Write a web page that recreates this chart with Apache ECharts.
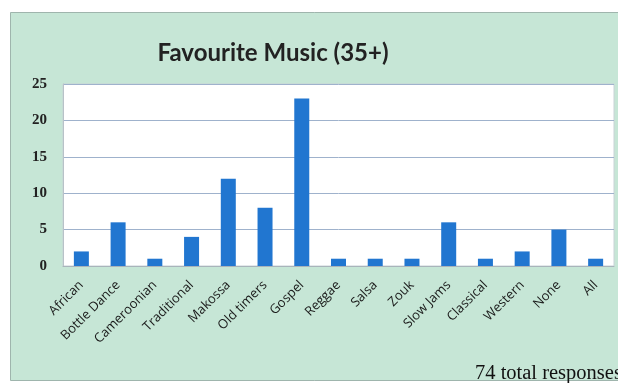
<!DOCTYPE html>
<html>
<head>
<meta charset="utf-8">
<script src="https://cdn.jsdelivr.net/npm/echarts@6/dist/echarts.min.js"></script>
<style>html,body{margin:0;padding:0;background:#fff}#c{width:618px;height:383px}</style>
</head>
<body>
<div id="c"></div>
<script>
const categories = ['African','Bottle Dance','Cameroonian','Traditional','Makossa','Old timers','Gospel','Reggae','Salsa','Zouk','Slow Jams','Classical','Western','None','All'];
const counts = [2,6,1,4,12,8,23,1,1,1,6,1,2,5,1];
const yTicks = [0,5,10,15,20,25];
const titleText = 'Favourite Music (35+)';
const noteText = '74 total responses';

const chart = echarts.init(document.getElementById('c'), null, {renderer:'canvas'});
chart.setOption({
  backgroundColor: '#ffffff',
  animation: false,
  graphic: [
    {type:'rect', z:-10, shape:{x:10.5,y:12.5,width:620,height:368}, style:{fill:'#c6e6d6',stroke:'#9fb5ad',lineWidth:1}},
    {type:'text', left:475, top:363, z:10, style:{text:noteText, font:'20.5px "Liberation Serif"', fill:'#111'}}
  ],
  title: {
    text: titleText, left: 268, top: 36, textAlign:'center',
    textStyle: {fontFamily:'Lato', fontWeight:'bold', fontSize:24, color:'#222'}
  },
  grid: {left:63, right:4, top:84, bottom:117, show:true, backgroundColor:'#ffffff', borderColor:'#c9d2d6', borderWidth:1},
  xAxis: {
    type:'category', data: categories,
    axisLine:{show:true, lineStyle:{color:'#a9b4bb'}},
    axisTick:{show:false},
    axisLabel:{rotate:45, interval:0, margin:17, fontFamily:'Open Sans', fontSize:13, color:'#1a1a1a'}
  },
  yAxis: {
    type:'value', min:0, max:25, interval:5,
    axisLine:{show:true, lineStyle:{color:'#b8c2c8'}},
    axisTick:{show:false},
    axisLabel:{margin:16, fontFamily:'Liberation Serif', fontWeight:'bold', fontSize:15, color:'#222',
      formatter: v => yTicks.includes(v) ? String(v) : ''},
    splitLine:{lineStyle:{color:'#9fb2cc', width:1}}
  },
  series: [{
    type:'bar', data: counts, barWidth:15,
    itemStyle:{color:'#2176d0'}
  }]
});
</script>
</body>
</html>
